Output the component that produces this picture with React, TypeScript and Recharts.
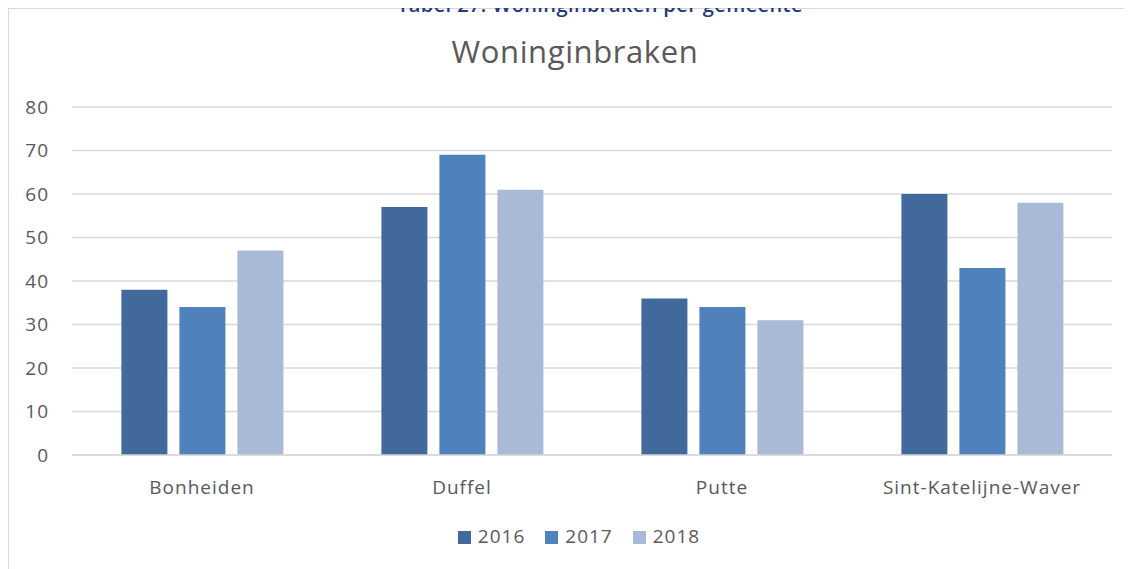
import React from 'react';
import { BarChart, Bar, XAxis, YAxis, CartesianGrid, Legend } from 'recharts';

const gemeenten = ['Bonheiden', 'Duffel', 'Putte', 'Sint-Katelijne-Waver'];
const y2016 = [38, 57, 36, 60];
const y2017 = [34, 69, 34, 43];
const y2018 = [47, 61, 31, 58];
const yTicks = [0, 10, 20, 30, 40, 50, 60, 70, 80];

const data = gemeenten.map((g, i) => ({ name: g, '2016': y2016[i], '2017': y2017[i], '2018': y2018[i] }));

const font = '"Open Sans", "Liberation Sans", sans-serif';
const txt = '#595959';
const tickStyle = { fill: txt, fontSize: 19, fontFamily: font, letterSpacing: 1 };

export default function App() {
  return (
    <div style={{ position: 'relative', width: 1124, height: 561, fontFamily: font }}>
      {/* caption, mostly cut off above the page */}
      <div style={{ position: 'absolute', top: -13, left: 0, width: 1184, textAlign: 'center', color: '#1f3a78', fontSize: 20, fontWeight: 600, letterSpacing: 0.4, lineHeight: '20px', whiteSpace: 'nowrap', zIndex: 2 }}>
        Tabel 27: Woninginbraken per gemeente
      </div>
      <div style={{ position: 'absolute', top: 0, left: 0, width: 1124, height: 561, borderLeft: '1px solid #d9d9d9', borderTop: '1px solid #d9d9d9', boxSizing: 'border-box' }} />
      <div style={{ position: 'absolute', top: 22, left: 0, width: 1134, textAlign: 'center', color: txt, fontSize: 31, letterSpacing: 0.6 }}>
        Woninginbraken
      </div>
      <BarChart width={1124} height={561} data={data} barGap={12} barCategoryGap="19%"
        margin={{ top: 99, right: 20, left: 0, bottom: 20 }}>
        <CartesianGrid vertical={false} stroke="#d9d9d9" strokeWidth={1.5} />
        <XAxis dataKey="name" axisLine={{ stroke: '#d9d9d9', strokeWidth: 1.5 }} tickLine={false}
          tick={tickStyle} tickMargin={20} height={68} />
        <YAxis ticks={yTicks} domain={[0, 80]} axisLine={false} tickLine={false} tickSize={0} tickMargin={23}
          width={64} tick={tickStyle} />
        <Legend verticalAlign="bottom" iconType="square" iconSize={13}
          wrapperStyle={{ fontSize: 19, fontFamily: font, color: txt, letterSpacing: 1, paddingLeft: 29 }}
          formatter={(v) => <span style={{ color: txt, marginLeft: 3, marginRight: 10 }}>{v}</span>} />
        <Bar dataKey="2016" fill="#41699b" isAnimationActive={false} />
        <Bar dataKey="2017" fill="#4f81bd" isAnimationActive={false} />
        <Bar dataKey="2018" fill="#a9b9d7" isAnimationActive={false} />
      </BarChart>
    </div>
  );
}
